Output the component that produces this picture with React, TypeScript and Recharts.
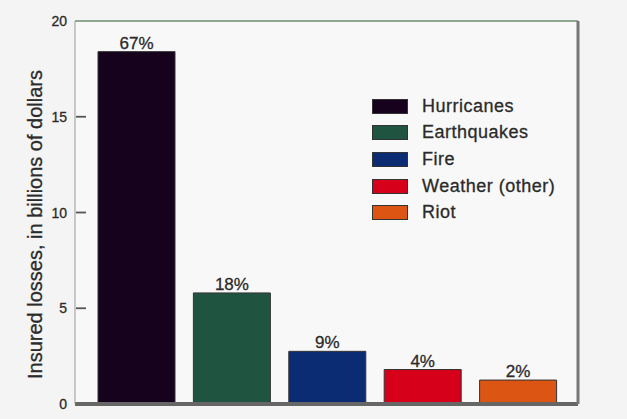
import React from 'react';
import { BarChart, Bar, XAxis, YAxis, Cell, LabelList, ReferenceLine, CartesianGrid } from 'recharts';

const causes = ['Hurricanes', 'Earthquakes', 'Fire', 'Weather (other)', 'Riot'];
const losses = [18.4, 5.8, 2.75, 1.8, 1.25];
const shares = ['67%', '18%', '9%', '4%', '2%'];
const colors = ['#16021c', '#1f5540', '#0b2b72', '#d6001a', '#dc5512'];
const yTicks = [0, 5, 10, 15, 20];

const data = causes.map((name, i) => ({ name, value: losses[i], pct: shares[i] }));

const FONT = '"Liberation Sans", Arial, Helvetica, sans-serif';
const INK = '#2a2a2a';
const AXIS_X = 75;

const YTick = (props: any) => {
  const { y, payload } = props;
  return (
    <g>
      <text x={AXIS_X - 8} y={y} dy={5} textAnchor="end" fontSize={14} fill={INK} stroke={INK} strokeWidth={0.3} fontFamily={FONT}>
        {payload.value}
      </text>
      {payload.value !== 0 && payload.value !== 20 && (
        <line x1={AXIS_X + 1} x2={AXIS_X + 11} y1={y} y2={y} stroke="#555" strokeWidth={1.8} />
      )}
    </g>
  );
};

const YLabel = (props: any) => {
  const vb = props.viewBox || {};
  const cx = 35;
  const cy = (vb.y || 21) + (vb.height || 384) / 2 + 12;
  return (
    <text
      x={cx}
      y={cy}
      transform={`rotate(-90, ${cx}, ${cy})`}
      textAnchor="middle"
      dominantBaseline="central"
      fontSize={20}
      fill={INK}
      stroke={INK}
      strokeWidth={0.3}
      fontFamily={FONT}
    >
      Insured losses, in billions of dollars
    </text>
  );
};

export default function App() {
  return (
    <div style={{ position: 'absolute', top: 0, left: 0, width: 627, height: 419, background: '#f4f4f4', fontFamily: FONT }}>
      <BarChart
        width={627}
        height={419}
        data={data}
        margin={{ top: 21, right: 48, bottom: 14, left: 0 }}
      >
        <CartesianGrid horizontal={false} vertical={false} fill="#f8f8f8" />
        <XAxis
          dataKey="name"
          tick={false}
          tickLine={false}
          height={1}
          padding={{ left: 14, right: 12 }}
          axisLine={{ stroke: '#666', strokeWidth: 4 }}
        />
        <YAxis
          domain={[0, 20]}
          ticks={yTicks}
          width={AXIS_X}
          tickLine={false}
          tick={(p: any) => <YTick {...p} />}
          axisLine={{ stroke: '#999', strokeWidth: 1 }}
          label={(p: any) => <YLabel {...p} />}
        />
        <YAxis
          yAxisId="r"
          orientation="right"
          domain={[0, 20]}
          width={1}
          tick={false}
          tickLine={false}
          axisLine={{ stroke: '#777', strokeWidth: 3 }}
        />
        <ReferenceLine y={20} stroke="#6f8f6f" strokeWidth={1.5} ifOverflow="extendDomain" />
        <Bar dataKey="value" barSize={77} stroke="#333" strokeWidth={1} isAnimationActive={false}>
          {data.map((d, i) => (
            <Cell key={d.name} fill={colors[i]} />
          ))}
          <LabelList dataKey="pct" position="top" offset={3} fontSize={17} fill={INK} stroke={INK} strokeWidth={0.3} fontFamily={FONT} />
        </Bar>
      </BarChart>
      <div style={{ position: 'absolute', left: 372, top: 93 }}>
        {causes.map((name, i) => (
          <div key={name} style={{ display: 'flex', alignItems: 'center', height: 26.6 }}>
            <div style={{ width: 36, height: 15, background: colors[i], border: '1px solid #333', boxSizing: 'border-box' }} />
            <span style={{ marginLeft: 14, fontSize: 18, color: INK, letterSpacing: 0.5, WebkitTextStroke: '0.3px #2a2a2a' }}>{name}</span>
          </div>
        ))}
      </div>
    </div>
  );
}
